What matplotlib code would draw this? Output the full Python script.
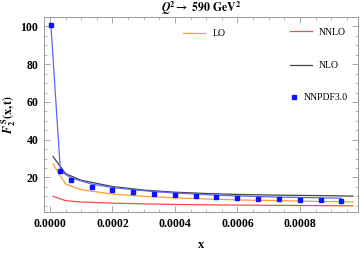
import matplotlib
matplotlib.use("Agg")
import matplotlib.pyplot as plt
from matplotlib.lines import Line2D
from matplotlib.ticker import MultipleLocator

# -----------------------------------------
# DATA
# -----------------------------------------
x_grid = [0.00001, 0.00005, 0.0001, 0.0002, 0.0003, 0.0004, 0.0005,
          0.0006, 0.0007, 0.0008, 0.0009, 0.00097]

lo_vals = [27.0, 16.5, 13.5, 11.2, 10.0, 9.2, 8.6, 8.1, 7.8, 7.5, 7.2, 7.0]
nlo_vals = [31.0, 22.0, 18.5, 15.2, 13.3, 12.2, 11.5, 11.0, 10.7, 10.5, 10.3, 10.1]
nnlo_vals = [10.0, 7.7, 7.0, 6.4, 6.0, 5.7, 5.5, 5.35, 5.25, 5.15, 5.05, 5.0]

nnpdf_x = [0.000003, 0.0000333, 0.0000667, 0.000133, 0.0002, 0.000267,
           0.000333, 0.0004, 0.000467, 0.000533, 0.0006, 0.000667,
           0.000733, 0.0008, 0.000867, 0.000933]
nnpdf_pts = [100.5, 23.2, 18.7, 14.7, 13.2, 12.1, 11.2, 10.7, 10.2,
             9.6, 9.1, 8.7, 8.6, 8.2, 7.9, 7.7]
nnpdf_line = [100.5, 23.5, 19.8, 16.5, 14.7, 13.5, 12.5, 11.8, 11.2,
              10.6, 10.2, 9.9, 9.6, 9.4, 9.2, 9.0]

x_ticks = [0.0, 0.0002, 0.0004, 0.0006, 0.0008]
y_ticks = [20, 40, 60, 80, 100]

# -----------------------------------------
# STYLE
# -----------------------------------------
plt.rcParams["font.family"] = ["Liberation Serif", "DejaVu Serif"]
plt.rcParams["mathtext.fontset"] = "stix"

fig = plt.figure(figsize=(3.61, 2.56), dpi=100)
ax = fig.add_axes([44 / 361, 1 - 212 / 256, 314 / 361, 195 / 256])

# -----------------------------------------
# CURVES
# -----------------------------------------
lo_line, = ax.plot(x_grid, lo_vals, color="#ff9a2e", lw=0.9, label="LO")
nnlo_line, = ax.plot(x_grid, nnlo_vals, color="#ff4a4a", lw=0.9, label="NNLO")
nlo_line, = ax.plot(x_grid, nlo_vals, color="#444444", lw=0.9, label="NLO")

ax.plot(nnpdf_x, nnpdf_line, color="#5a66ff", lw=0.9)
ax.errorbar(nnpdf_x, nnpdf_pts, yerr=0.7, fmt="s", ms=3.4,
            color="#0a14ff", ecolor="#0a14ff", elinewidth=3.4,
            capsize=0, mec="#0a14ff")
pts_handle = Line2D([], [], ls="none", marker="s", ms=3.4,
                    color="#0a14ff", label="NNPDF3.0")

# -----------------------------------------
# AXES
# -----------------------------------------
ax.set_xlim(-0.0000192, 0.000986)
ax.set_ylim(1.7, 105)

ax.set_xticks(x_ticks)
ax.set_xticklabels([f"{v:.4f}" for v in x_ticks])
ax.set_yticks(y_ticks)
ax.xaxis.set_minor_locator(MultipleLocator(0.00005))
ax.yaxis.set_minor_locator(MultipleLocator(5))

ax.tick_params(which="both", direction="in", top=True, right=True,
               color="#999999", labelsize=8.5, pad=4)
ax.tick_params(which="major", length=4, width=0.6)
ax.tick_params(which="minor", length=2, width=0.5)
for lab in ax.get_xticklabels() + ax.get_yticklabels():
    lab.set_fontweight("bold")

for sp in ax.spines.values():
    sp.set_color("#999999")
    sp.set_linewidth(0.7)

ax.set_title(r"$\mathbfit{Q}^{\mathbf{2}}\mathbf{\rightarrow\ 590\ GeV}^{\mathbf{2}}$",
             fontsize=8.5, pad=3)
ax.set_xlabel("x", fontsize=9, fontweight="bold", labelpad=7)
ax.set_ylabel(r"$\mathbfit{F}_{\mathbf{2}}^{\ \mathbf{S}}\mathbf{(x,t)}$",
              fontsize=8.5, labelpad=2)

# -----------------------------------------
# LEGENDS
# -----------------------------------------
leg_kw = dict(frameon=False, fontsize=7, borderpad=0, borderaxespad=0,
              loc="center left")

leg1 = ax.legend(handles=[lo_line], bbox_to_anchor=(0.443, 0.913),
                 handlelength=2.3, handletextpad=0.7, **leg_kw)
ax.add_artist(leg1)

leg2 = ax.legend(handles=[nnlo_line, nlo_line], bbox_to_anchor=(0.783, 0.836),
                 handlelength=2.3, handletextpad=0.7, labelspacing=2.5, **leg_kw)
ax.add_artist(leg2)

ax.legend(handles=[pts_handle], bbox_to_anchor=(0.78, 0.585),
          handlelength=1.0, handletextpad=0.5, **leg_kw)

fig.savefig("out.png", dpi=100)
